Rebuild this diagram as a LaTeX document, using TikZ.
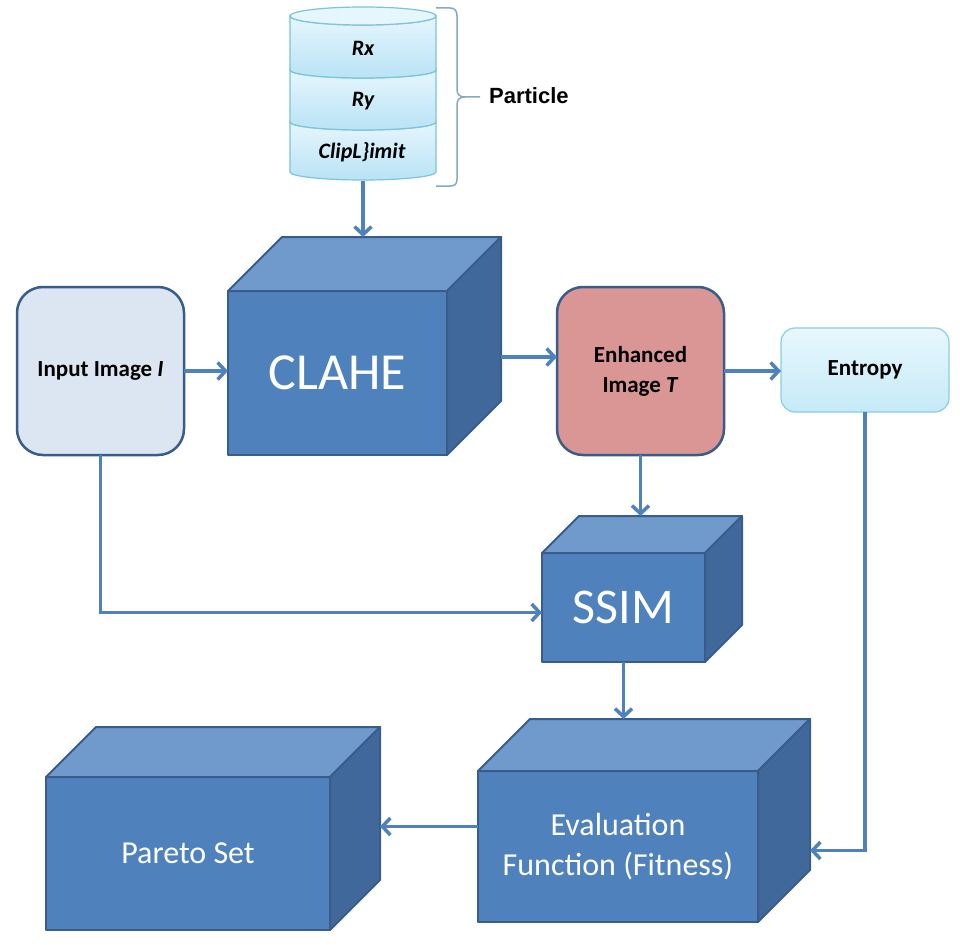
\documentclass[tikz,border=0pt]{standalone}
\usepackage{fontspec}
\setmainfont{Carlito}
\newfontfamily\arialfont{Liberation Sans}
\usetikzlibrary{arrows.meta,calc}
\definecolor{cubefront}{HTML}{4F81BD}
\definecolor{cubetop}{HTML}{7099CC}
\definecolor{cubeside}{HTML}{41689A}
\definecolor{cubeedge}{HTML}{385D8A}
\definecolor{arrowblue}{HTML}{4F81BD}
\definecolor{inputfill}{HTML}{DCE6F2}
\definecolor{enhfill}{HTML}{D99694}
\definecolor{cyltop}{HTML}{E6F6FD}
\definecolor{cylbot}{HTML}{B9E3F5}
\definecolor{cyledge}{HTML}{7CC3DC}
\definecolor{enttop}{HTML}{E8F7FD}
\definecolor{entbot}{HTML}{C6EAF8}
\definecolor{entedge}{HTML}{8DCCE3}
\definecolor{bracecol}{HTML}{8AA6C8}
\tikzset{
  cubeface/.style={draw=cubeedge, line width=2pt, fill=cubefront, text=white,
    inner sep=0pt, outer sep=0pt, align=center, line join=round},
  cubetopstyle/.style={draw=cubeedge, line width=2pt, fill=cubetop, line join=round},
  cubesidestyle/.style={draw=cubeedge, line width=2pt, fill=cubeside, line join=round},
  arr/.style={draw=arrowblue, line width=3.5pt, -{Straight Barb[length=8pt,width=17pt]}},
  roundbox/.style={draw=cubeedge, line width=2.5pt, rounded corners=26pt,
    inner sep=0pt, outer sep=0pt, align=center,
    font=\fontsize{23}{30}\selectfont\bfseries},
  cyltext/.style={font=\fontsize{22}{24}\selectfont\bfseries\itshape, inner sep=0pt},
  cylseg/.style={draw=cyledge, line width=1.2pt, top color=cyltop, bottom color=cylbot},
}
\newcommand{\drawcube}[7][]{%
  \node[cubeface,#1,minimum width=#4,minimum height=#5] (#2) at (#3) {#7};
  \filldraw[cubetopstyle] (#2.north west) -- ++(#6,-#6) -- ($(#2.north east)+(#6,-#6)$) -- (#2.north east) -- cycle;
  \filldraw[cubesidestyle] (#2.north east) -- ++(#6,-#6) -- ++(0,#5) -- (#2.south east) -- cycle;
  \coordinate (#2-back) at ($(#2.north)+(#6,-#6)$);
  \coordinate (#2-rx) at ($(#2.east)+(#6,0)$);
}
\begin{document}
\begin{tikzpicture}[x=1pt,y=-1pt]
\useasboundingbox (0,0) rectangle (960,944);
\fill[white] (0,0) rectangle (960,944);

% ---------- cylinder (particle) ----------
\node[minimum width=146, minimum height=174, inner sep=0pt, outer sep=0pt] (cyl) at (363,94) {};
\path[cylseg] (290,122) -- (290,172) arc[start angle=180,end angle=360,x radius=73pt,y radius=8pt]
  -- (436,122) arc[start angle=0,end angle=-180,x radius=73pt,y radius=8pt] -- cycle;
\path[cylseg] (290,70) -- (290,122) arc[start angle=180,end angle=360,x radius=73pt,y radius=8pt]
  -- (436,70) arc[start angle=0,end angle=-180,x radius=73pt,y radius=8pt] -- cycle;
\path[cylseg] (290,16) -- (290,70) arc[start angle=180,end angle=360,x radius=73pt,y radius=8pt]
  -- (436,16) arc[start angle=0,end angle=-180,x radius=73pt,y radius=9pt] -- cycle;
\filldraw[draw=cyledge, line width=1.2pt, fill=cyltop] (363,16) ellipse[x radius=73pt, y radius=9pt];
\node[cyltext] (rx) at (363,48) {Rx};
\node[cyltext] (ry) at (363,101) {Ry};
\node[cyltext] (clip) at (362,152) {ClipL\}imit};

% brace
\draw[bracecol, line width=1.5pt] (436,8) -- (450,8) .. controls (455,8) and (457,11) .. (457,16)
  -- (457,89) .. controls (457,94) and (459,97) .. (465,97) -- (480,97);
\draw[bracecol, line width=1.5pt] (465,97) .. controls (459,97) and (457,100) .. (457,105)
  -- (457,179) .. controls (457,184) and (455,186) .. (450,186) -- (436,186);
\node[font=\arialfont\fontsize{22}{24}\selectfont\bfseries, inner sep=0pt, anchor=west] (particle) at (489,96) {Particle};

% ---------- boxes ----------
\node[roundbox, fill=inputfill, minimum width=167, minimum height=168] (input) at (100.5,371) {Input Image \textit{I}};
\node[roundbox, fill=enhfill, minimum width=167, minimum height=168] (enh) at (640.5,371) {Enhanced\\Image \textit{T}};
\node[draw=entedge, line width=1.2pt, rounded corners=14pt, top color=enttop, bottom color=entbot,
  minimum width=168, minimum height=84, inner sep=0pt, outer sep=0pt,
  font=\fontsize{23}{26}\selectfont\bfseries] (ent) at (865,370) {Entropy};

% ---------- cubes ----------
\drawcube[font=\fontsize{52}{60}\selectfont]{clahe}{337.5,373}{219}{164}{54}{CLAHE}
\drawcube[font=\fontsize{50}{60}\selectfont]{ssim}{623.5,607.5}{163}{109}{37}{SSIM}
\drawcube[font=\fontsize{32}{40}\selectfont]{eval}{618,846.5}{280}{151}{52}{Evaluation\\Function (Fitness)}
\drawcube[font=\fontsize{32}{40}\selectfont]{pareto}{188,853.5}{284}{153}{50}{Pareto Set}

% ---------- connectors ----------
\draw[arr] (cyl.south) -- (cyl.south |- clahe-back);
\draw[arr] (input.east) -- (input.east -| clahe.west);
\coordinate (claheout) at ([yshift=16pt]clahe-rx);
\draw[arr] (claheout) -- (claheout -| enh.west);
\draw[arr] (enh.east) -- (enh.east -| ent.west);
\draw[arr] (enh.south) -- (enh.south |- ssim-back);
\coordinate (ssimin) at ([yshift=-5pt]ssim.west);
\draw[arr] (input.south) |- (ssimin);
\draw[arr] (ssim.south) -- (ssim.south |- eval-back);
\coordinate (evalin) at ([yshift=-4pt]eval-rx);
\draw[arr] (ent.south) |- (evalin);
\coordinate (evalout) at ([yshift=20pt]eval.west);
\draw[arr] (evalout) -- (evalout -| pareto-rx);
\end{tikzpicture}
\end{document}
